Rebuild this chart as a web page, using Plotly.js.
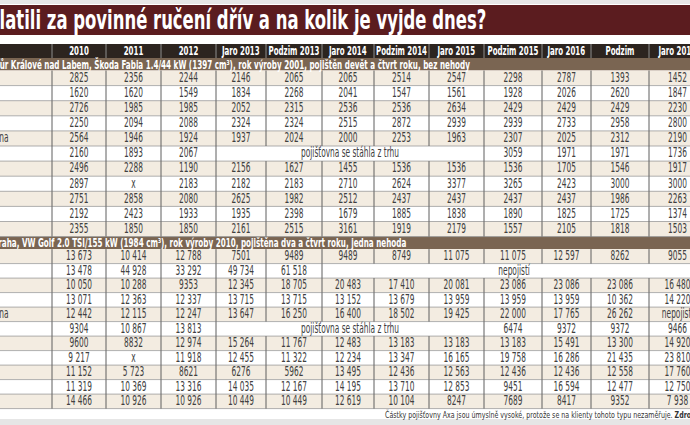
<!DOCTYPE html>
<html><head><meta charset="utf-8">
<script src="https://cdn.plot.ly/plotly-3.0.1.min.js"></script>
<style>
html,body{margin:0;padding:0;overflow:hidden;width:690px;height:425px;background:#fff}
#chart{position:absolute;left:-200px;top:0;width:910px;height:425px}
</style>
</head><body><div id="chart"></div>
<script>
// ---------- DATA ----------
const chartTitle = "Kolik zaplatili za povinné ručení dřív a na kolik je vyjde dnes?";
const columns = ["2010","2011","2012","Jaro 2013","Podzim 2013","Jaro 2014","Podzim 2014","Jaro 2015","Podzim 2015","Jaro 2016","Podzim","Jaro 2017"];
const insurers = ["Allianz","Axa","ČPP","ČSOB","Česká pojišťovna","Direct","Generali","Hasičská","Kooperativa","Slavia","Uniqa"];

const fabiaTitle = "Dvůr Králové nad Labem, Škoda Fabia 1.4/44 kW (1397 cm³), rok výroby 2001, pojištěn devět a čtvrt roku, bez nehody";
// null = cell merged with the cell on its left
const fabiaRows = [
  ["2825","2356","2244","2146","2065","2065","2514","2547","2298","2787","1393","1452"],
  ["1620","1620","1549","1834","2268","2041","1547","1561","1928","2026","2620","1847"],
  ["2726","1985","1985","2052","2315","2536","2536","2634","2429","2429","2429","2230"],
  ["2250","2094","2088","2324","2324","2515","2872","2939","2939","2733","2958","2800"],
  ["2564","1946","1924","1937","2024","2000","2253","1963","2307","2025","2312","2190"],
  ["2160","1893","2067","pojišťovna se stáhla z trhu",null,null,null,null,"3059","1971","1971","1736"],
  ["2496","2288","1190","2156","1627","1455","1536","1536","1536","1705","1546","1917"],
  ["2897","x","2183","2182","2183","2710","2624","3377","3265","2423","3000","3000"],
  ["2751","2858","2080","2625","1982","2512","2437","2437","2437","2437","1986","2263"],
  ["2192","2423","1933","1935","2398","1679","1885","1838","1890","1825","1725","1374"],
  ["2355","1850","1850","2161","2515","3161","1919","2179","1557","2105","1818","1503"]
];

const golfTitle = "Praha, VW Golf 2.0 TSI/155 kW (1984 cm³), rok výroby 2010, pojištěna dva a čtvrt roku, jedna nehoda";
const golfRows = [
  ["13 673","10 414","12 788","7501","9489","9489","8749","11 075","11 075","12 597","8262","9055"],
  ["13 478","44 928","33 292","49 734","61 518","nepojistí",null,null,null,null,null,null],
  ["10 050","10 288","9353","12 345","18 705","20 483","17 410","20 081","23 086","23 086","23 086","16 480"],
  ["13 071","12 363","12 337","13 715","13 715","13 152","13 679","13 959","13 959","13 959","10 362","14 220"],
  ["12 442","12 115","12 247","13 647","16 250","16 400","18 502","19 425","22 000","17 765","26 262","nepojistí"],
  ["9304","10 867","13 813","pojišťovna se stáhla z trhu",null,null,null,null,"6474","9372","9372","9466"],
  ["9600","8832","12 974","15 264","11 767","12 483","13 183","13 183","13 183","15 491","13 300","14 920"],
  ["9 217","x","11 918","12 455","11 322","12 234","13 347","16 165","19 758","16 286","21 435","23 810"],
  ["11 152","5 723","8621","6276","5962","13 495","12 436","12 563","12 436","12 436","12 558","17 760"],
  ["11 319","10 369","13 316","14 035","12 167","14 195","13 710","12 853","9451","16 594","12 477","12 750"],
  ["14 466","10 926","10 926","10 449","10 449","12 619","10 104","8247","7689","8417","9352","7 938"]
];
const footnoteText = "Částky pojišťovny Axa jsou úmyslně vysoké, protože se na klienty tohoto typu nezaměřuje.";
const footnoteSource = "Zdroj: pojišťovny";

// ---------- LAYOUT / STYLE ----------
const FF = "'Liberation Sans Narrow', 'DejaVu Sans Condensed', sans-serif";
const SZ = {title:26, head:13, data:13.2, sec:12, foot:9.5};
const X0 = -200, X1 = 710;
const edges = [52,106,161,216,266,322,374,429,484,542,591,649,706];
const headerTop = 44, headerH = 14, secH = 12.5;
const rowH1 = 15.1, rowH2 = 14.5;
const C = {
  gray:"#e6e6e6", titleBar:"#5b1c1f", header:"#2c241f", section:"#7a6552",
  odd:"#f3ece1", even:"#ffffff", vline:"#5f5f5f", hline:"#9a9a9a", text:"#404040"
};

// horizontal condensing so the glyphs match the narrow face of the original
const ctx = document.createElement("canvas").getContext("2d");
function mw(font, s){ ctx.font = font; return ctx.measureText(s).width; }
const scale = {};
scale[SZ.title] = 487 / mw("bold "+SZ.title+"px "+FF, "latili za povinné ručení dřív a na kolik je vyjde dnes?");
scale[SZ.head]  = 51 / mw("bold "+SZ.head+"px "+FF, "Podzim 2015");
scale[SZ.data]  = 98 / mw(SZ.data+"px "+FF, "pojišťovna se stáhla z trhu");
scale[SZ.sec]   = 471 / mw("bold "+SZ.sec+"px "+FF, "ůr Králové nad Labem, Škoda Fabia 1.4/44 kW (1397 cm³), rok výroby 2001, pojištěn devět a čtvrt roku, bez nehody");
scale[SZ.foot]  = 288 / mw(SZ.foot+"px "+FF, footnoteText);

const shapes = [];
const annotations = [];
const rect = (y0,y1,fill,x0=X0,x1=X1)=>shapes.push({type:"rect",xref:"x",yref:"y",x0,x1,y0,y1,fillcolor:fill,line:{width:0},layer:"below"});

rect(0,4,C.gray);
rect(5,35,C.titleBar);
rect(419,425,C.gray);
annotations.push({xref:"x",yref:"y",x:488,y:20,xanchor:"right",yanchor:"middle",align:"right",showarrow:false,
  text:"<b>"+chartTitle+"</b>",font:{family:FF,size:SZ.title,color:"#ffffff"}});

// header row
rect(headerTop,headerTop+headerH,C.header);
const hdX=[],hdY=[],hdT=[];
const hx=[],hy=[];
columns.forEach((c,i)=>{hdX.push((edges[i]+edges[i+1])/2);hdY.push(headerTop+headerH/2+0.5);hdT.push("<b>"+c+"</b>");});
edges.forEach(e=>{hx.push(e,e,null);hy.push(headerTop,headerTop+headerH,null);});

const txX=[],txY=[],txT=[];
const lbX=[],lbY=[],lbT=[];
const vX=[],vY=[],hX=[],hY=[];
const labelX = 8.5 - mw(SZ.data+"px "+FF,"Česká pojišťovna")*scale[SZ.data];

function section(top,title,hidden,shift,rows,rowH){
  rect(top,top+secH,C.section);
  const tx = shift - mw("bold "+SZ.sec+"px "+FF, hidden)*scale[SZ.sec];
  annotations.push({xref:"x",yref:"y",x:tx,y:top+secH/2+0.5,xanchor:"left",yanchor:"middle",align:"left",showarrow:false,
    text:"<b>"+title+"</b>",font:{family:FF,size:SZ.sec,color:"#ffffff"}});
  let y=top+secH;
  rows.forEach((row,r)=>{
    const y0=y,y1=y+rowH;
    rect(y0,y1,r%2===0?C.odd:C.even);
    lbX.push(labelX);lbY.push((y0+y1)/2+0.5);lbT.push(insurers[r]);
    for(let j=0;j<row.length;j++){
      if(row[j]===null) continue;
      let k=j; while(k+1<row.length && row[k+1]===null) k++;
      txX.push((edges[j]+edges[k+1])/2); txY.push((y0+y1)/2+0.5); txT.push(row[j]);
    }
    for(let j=0;j<edges.length;j++){
      if(j>0 && j<row.length && row[j]===null) continue;
      vX.push(edges[j],edges[j],null); vY.push(y0,y1,null);
    }
    hX.push(X0,X1,null); hY.push(y1,y1,null);
    y=y1;
  });
  return y;
}
let yy = section(headerTop+headerH,fabiaTitle,"Dv",-2,fabiaRows,rowH1);
yy = section(yy,golfTitle,"P",-4,golfRows,rowH2);

annotations.push({xref:"x",yref:"y",x:383,y:yy+5.5,xanchor:"left",yanchor:"middle",align:"left",showarrow:false,
  text:footnoteText+" <b>"+footnoteSource+"</b>",font:{family:FF,size:SZ.foot,color:"#333"}});

const common={mode:"text",hoverinfo:"skip",showlegend:false,cliponaxis:false};
const traces=[
  {type:"scatter",mode:"lines",x:hX,y:hY,line:{color:C.hline,width:0.8},hoverinfo:"skip",showlegend:false},
  {type:"scatter",mode:"lines",x:vX,y:vY,line:{color:C.vline,width:1},hoverinfo:"skip",showlegend:false},
  {type:"scatter",mode:"lines",x:hx,y:hy,line:{color:"#8d8d8d",width:1},hoverinfo:"skip",showlegend:false},
  Object.assign({type:"scatter",x:hdX,y:hdY,text:hdT,textposition:"middle center",textfont:{family:FF,size:SZ.head,color:"#fff"}},common),
  Object.assign({type:"scatter",x:txX,y:txY,text:txT,textposition:"middle center",textfont:{family:FF,size:SZ.data,color:C.text}},common),
  Object.assign({type:"scatter",x:lbX,y:lbY,text:lbT,textposition:"middle right",textfont:{family:FF,size:SZ.data,color:C.text}},common)
];

const layout={
  width:910,height:425,margin:{l:0,r:0,t:0,b:0},
  paper_bgcolor:"#ffffff",plot_bgcolor:"#ffffff",
  xaxis:{range:[X0,X1],visible:false,fixedrange:true},
  yaxis:{range:[425,0],visible:false,fixedrange:true},
  shapes,annotations,showlegend:false
};
Plotly.newPlot("chart",traces,layout,{staticPlot:true,displayModeBar:false}).then(gd=>{
  gd.querySelectorAll("svg text").forEach(t=>{
    const fs = parseFloat(t.style.fontSize || getComputedStyle(t).fontSize);
    const s = scale[fs];
    if(!s) return;
    const bb = t.getBBox();
    const anc = t.getAttribute("text-anchor") || getComputedStyle(t).textAnchor || "start";
    const ax = anc==="end" ? bb.x+bb.width : anc==="middle" ? bb.x+bb.width/2 : bb.x;
    const prev = t.getAttribute("transform") || "";
    t.setAttribute("transform", prev+" translate("+ax+",0) scale("+s+",1) translate("+(-ax)+",0)");
  });
});
</script>
</body></html>
